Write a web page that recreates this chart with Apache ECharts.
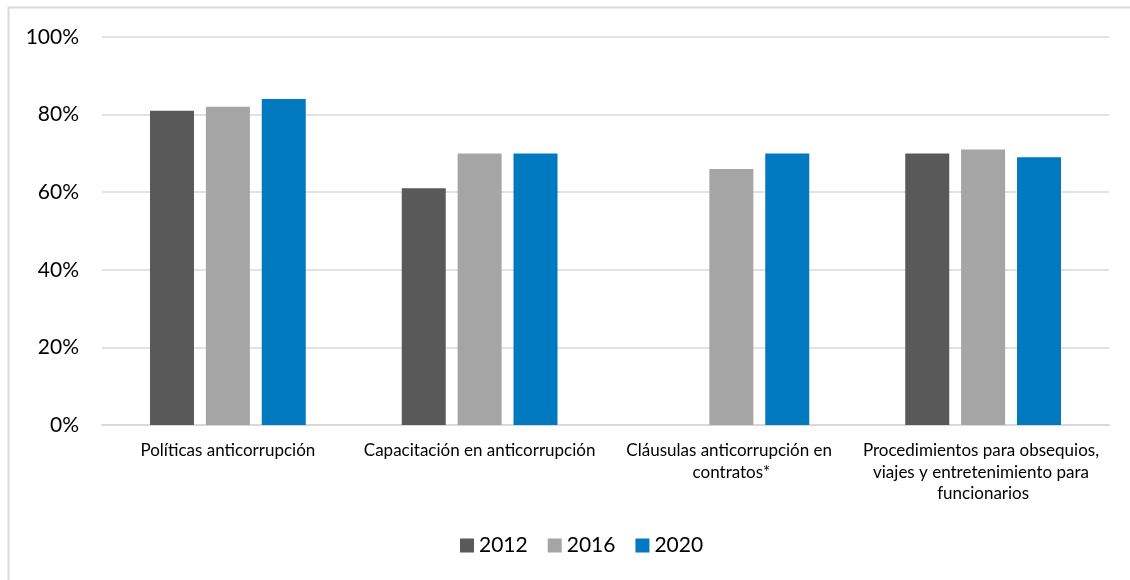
<!DOCTYPE html>
<html>
<head>
<meta charset="utf-8">
<script src="https://cdn.jsdelivr.net/npm/echarts@6/dist/echarts.min.js"></script>
<style>
  html, body { margin: 0; padding: 0; background: #fff; }
  #chart { width: 1130px; height: 580px; }
</style>
</head>
<body>
<div id="chart"></div>
<script>
// chart data
const categories = [
  'Políticas anticorrupción',
  'Capacitación en anticorrupción',
  'Cláusulas anticorrupción en contratos*',
  'Procedimientos para obsequios, viajes y entretenimiento para funcionarios'
]
const years = ['2012', '2016', '2020']
const values2012 = [81, 61, null, 70]
const values2016 = [82, 70, 66, 71]
const values2020 = [84, 70, 70, 69]
const colors = ['#595959', '#a5a5a5', '#0079bf']

const font = 'Lato, "Open Sans", sans-serif'

const chart = echarts.init(document.getElementById('chart'))

function barSeries(name, data, color) {
  return {
    name: name,
    type: 'bar',
    data: data,
    barWidth: 44,
    barGap: '27%',
    itemStyle: { color: color },
    animation: false
  }
}

chart.setOption({
  textStyle: { fontFamily: font },
  graphic: [
    {
      type: 'rect',
      shape: { x: 8.5, y: 7.5, width: 1200, height: 700 },
      style: { fill: 'none', stroke: '#d9d9d9', lineWidth: 2 },
      silent: true
    }
  ],
  grid: {
    left: 102,
    right: 21,
    top: 37,
    bottom: 155
  },
  legend: {
    data: years,
    bottom: 19,
    left: 455,
    itemWidth: 14,
    itemHeight: 14,
    itemGap: 20,
    icon: 'rect',
    textStyle: { fontSize: 21, color: '#000', fontFamily: font }
  },
  xAxis: {
    type: 'category',
    data: categories,
    axisTick: { show: false },
    axisLine: { lineStyle: { color: '#d9d9d9', width: 2 } },
    axisLabel: {
      interval: 0,
      margin: 15,
      fontSize: 17,
      color: '#000',
      lineHeight: 21.5,
      width: 250,
      overflow: 'break',
      fontFamily: font
    }
  },
  yAxis: {
    type: 'value',
    min: 0,
    max: 100,
    interval: 20,
    axisLine: { show: false },
    axisTick: { show: false },
    splitLine: { lineStyle: { color: '#d9d9d9', width: 1.5 } },
    axisLabel: {
      formatter: '{value}%',
      fontSize: 21,
      color: '#000',
      margin: 23,
      fontFamily: font
    }
  },
  series: [
    barSeries(years[0], values2012, colors[0]),
    barSeries(years[1], values2016, colors[1]),
    barSeries(years[2], values2020, colors[2])
  ]
})
</script>
</body>
</html>
